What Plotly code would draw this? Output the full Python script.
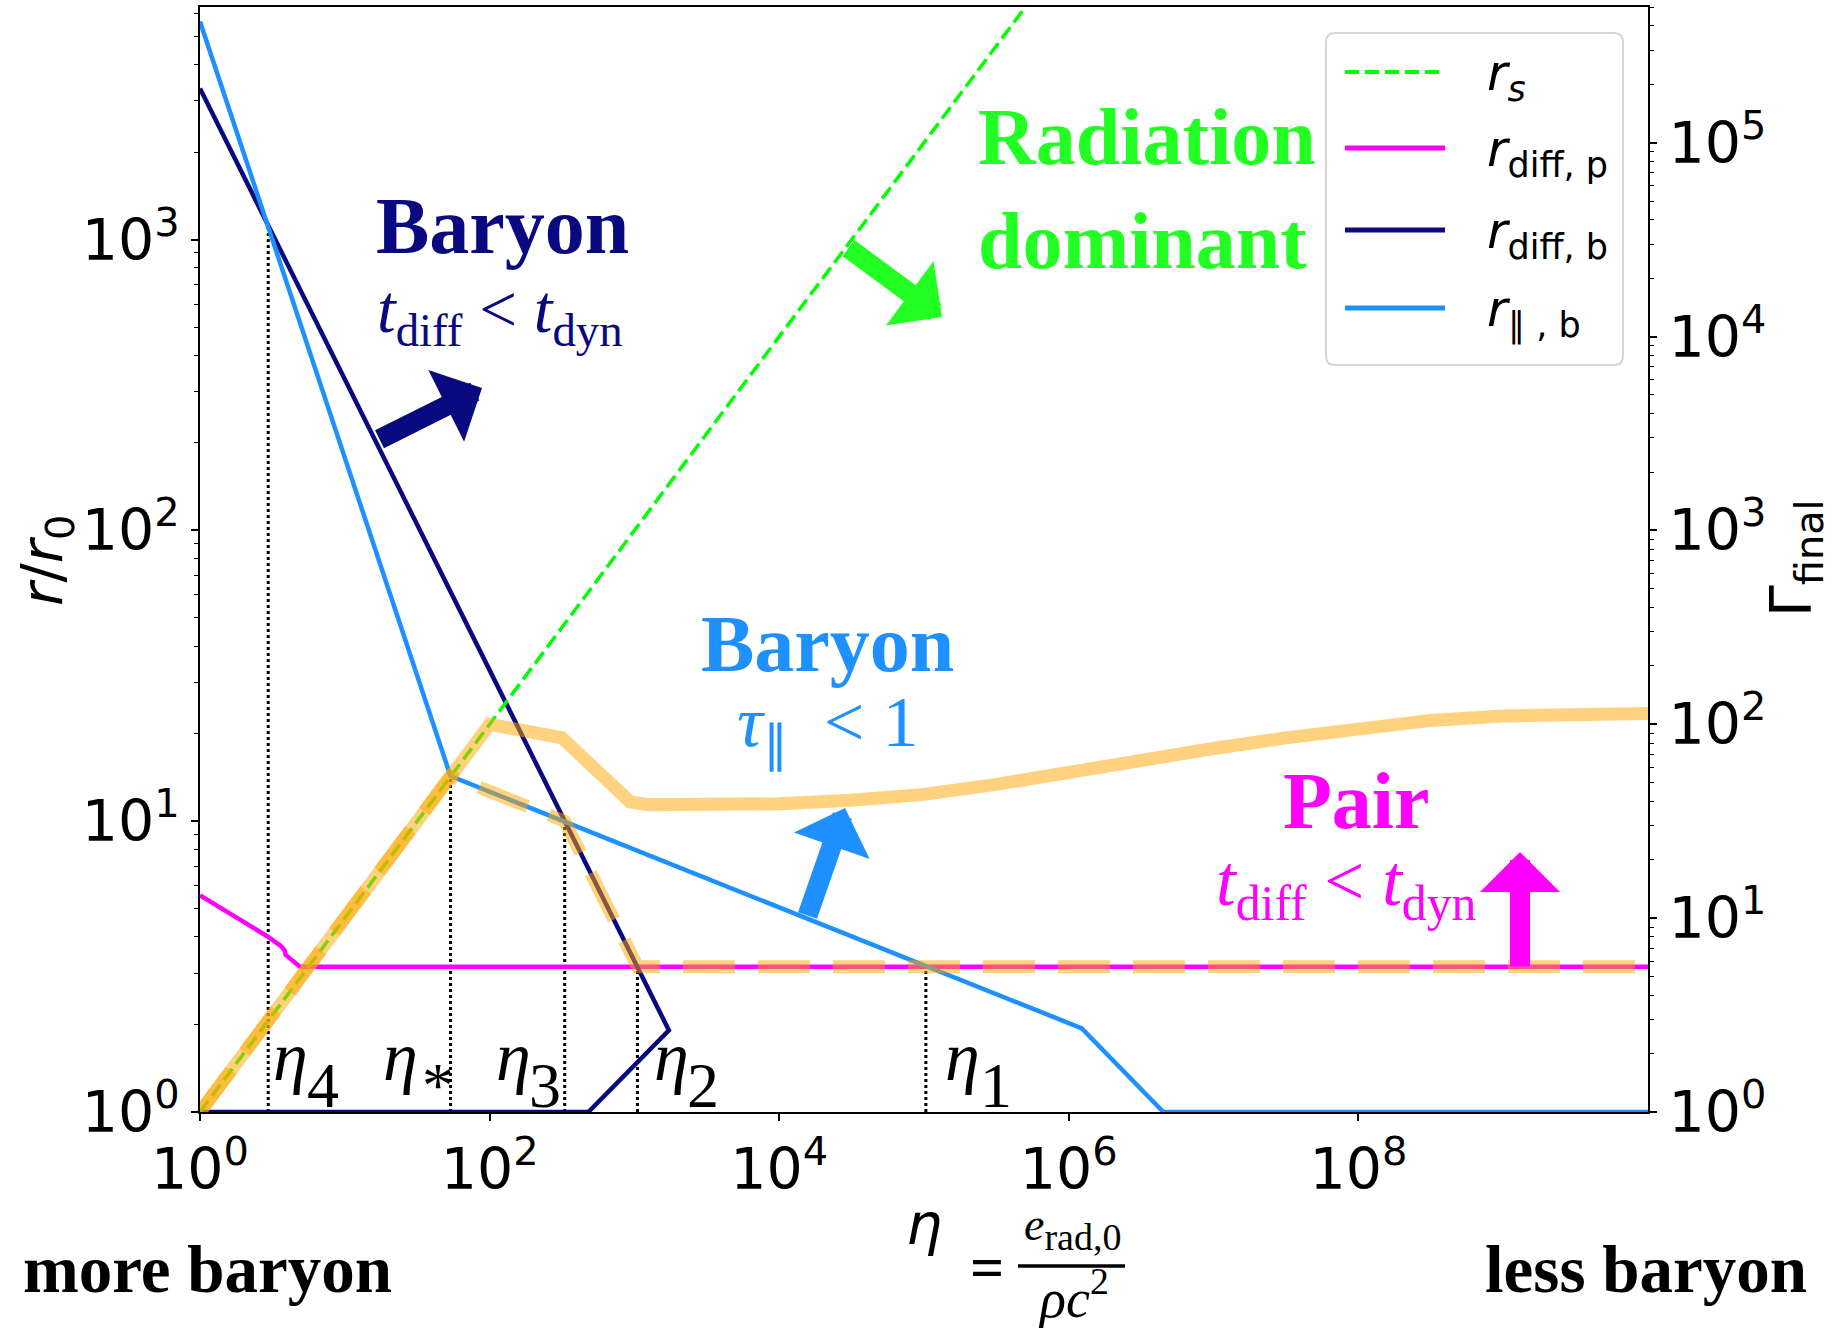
import math
import plotly.graph_objects as go

# ---------------- data ----------------
# r_s (sonic radius) : r/r0 = eta^(2/3)
eta_rs = [1.0, 1.0e6]
r_rs = [1.0, 1.0e4]

# pair diffusion radius
eta_diff_p = [1.0, 2.96, 3.63, 3.85, 3.9, 4.9, 1.0e10]
r_diff_p = [5.56, 4.0, 3.72, 3.59, 3.47, 3.16, 3.16]

# baryon diffusion radius (two branches joined at the turning point)
eta_diff_b = [1.0, 1730.0, 481.0, 1.0]
r_diff_b = [3311.0, 1.91, 1.0, 1.0]

# baryon parallel-optical-depth radius
eta_par_b = [1.0, 53.7, 1.23e6, 4.5e6, 1.0e10]
r_par_b = [5623.0, 14.3, 1.94, 1.0, 1.0]

# photospheric envelope (lower envelope of the radii above)
eta_env = [1.0, 53.7, 330.0, 1050.0, 1.0e10]
r_env = [1.0, 14.3, 10.0, 3.16, 3.16]

# final Lorentz factor (right axis)
eta_gamma = [1.0, 100.0, 316.0, 933.0, 1259.0, 3162.0, 1.0e4, 3.16e4, 1.0e5,
             3.16e5, 1.0e6, 3.16e6, 1.0e7, 3.16e7, 1.0e8, 3.16e8, 1.0e9,
             3.16e9, 1.0e10]
gamma_final = [1.0, 100.0, 85.1, 39.8, 38.5, 38.4, 38.9, 40.6, 43.5,
               49.0, 56.8, 66.0, 75.0, 85.1, 95.5, 104.7, 110.4,
               113.0, 113.8]

# characteristic eta values and the radius each dotted marker reaches
eta_marks = [2.96, 53.7, 330.0, 1050.0, 1.03e5]
r_marks = [1096.0, 14.3, 10.0, 3.16, 3.16]
mark_subs = ["4", "*", "3", "2", "1"]

# axis ticks
x_ticks = [1, 1e2, 1e4, 1e6, 1e8]
x_ticktext = ["10<sup>0</sup>", "10<sup>2</sup>", "10<sup>4</sup>",
              "10<sup>6</sup>", "10<sup>8</sup>"]
y_ticks = [1, 10, 100, 1000]
y_ticktext = ["10<sup>0</sup>", "10<sup>1</sup>", "10<sup>2</sup>", "10<sup>3</sup>"]
y2_ticks = [1, 10, 100, 1e3, 1e4, 1e5]
y2_ticktext = ["10<sup>0</sup>", "10<sup>1</sup>", "10<sup>2</sup>",
               "10<sup>3</sup>", "10<sup>4</sup>", "10<sup>5</sup>"]

legend_labels = ["<i>r</i><sub><i>s</i></sub>",
                 "<i>r</i><sub>diff, p</sub>",
                 "<i>r</i><sub>diff, b</sub>",
                 "<i>r</i><sub>\u2225 , b</sub>"]

# ---------------- styling ----------------
FIG_W, FIG_H = 1833, 1328
PL, PR, PT, PB = 200, 1648, 7, 1112

SERIF = "Liberation Serif"
SANS = "DejaVu Sans"
ASC = {SERIF: 0.891, SANS: 0.928}

LIME = "#00ff00"
LIME_TXT = "#22ff22"
NAVY = "#0a0a80"
DODGER = "#1e90ff"
MAGENTA = "#ff00ff"
ORANGE = "rgba(255,165,0,0.5)"
LW = 4.5


def fx(x):
    return (x - PL) / (PR - PL)


def fy(y):
    return (PB - y) / (PB - PT)


def text_at(text, x, baseline, size, color, family=SERIF, xanchor="left", **kw):
    top = baseline - ASC[family] * size - 2
    if xanchor == "left":
        x = x - 2
    return dict(text=text, x=fx(x), y=fy(top), xref="paper", yref="paper",
                xanchor=xanchor, yanchor="top", showarrow=False,
                font=dict(family=family, size=size, color=color), **kw)


def fat_arrow(tip, tail, color):
    return dict(text="", x=fx(tip[0]), y=fy(tip[1]), xref="paper", yref="paper",
                ax=tail[0] - tip[0], ay=tail[1] - tip[1],
                axref="pixel", ayref="pixel", showarrow=True,
                arrowhead=1, arrowsize=0.667, arrowwidth=20,
                arrowcolor=color, standoff=0)


fig = go.Figure()

# dotted markers at the characteristic eta values
for e, r in zip(eta_marks, r_marks):
    fig.add_trace(go.Scatter(x=[e, e], y=[1.0, r], mode="lines",
                             line=dict(color="black", width=3, dash="3px,3px"),
                             showlegend=False, hoverinfo="skip"))

fig.add_trace(go.Scatter(x=eta_diff_p, y=r_diff_p, mode="lines", name="r_diff,p",
                         line=dict(color=MAGENTA, width=LW)))
fig.add_trace(go.Scatter(x=eta_diff_b, y=r_diff_b, mode="lines", name="r_diff,b",
                         line=dict(color=NAVY, width=LW)))
fig.add_trace(go.Scatter(x=eta_par_b, y=r_par_b, mode="lines", name="r_par,b",
                         line=dict(color=DODGER, width=LW)))
fig.add_trace(go.Scatter(x=eta_rs, y=r_rs, mode="lines", name="r_s",
                         line=dict(color=LIME, width=3.5, dash="14px,6px")))
fig.add_trace(go.Scatter(x=eta_env, y=r_env, mode="lines", name="r_ph",
                         line=dict(color=ORANGE, width=13, dash="52px,23px")))
fig.add_trace(go.Scatter(x=eta_gamma, y=gamma_final, mode="lines", name="Gamma_final",
                         yaxis="y2", line=dict(color=ORANGE, width=13)))

tickfont = dict(family=SANS, size=57, color="black")
minor_y = [m * 10 ** d for d in range(0, 4) for m in range(2, 10)]
minor_y2 = [m * 10 ** d for d in range(0, 6) for m in range(2, 10)]

annotations = []

# eta_n labels next to the dotted markers
eta_dx = [5, -68, -69, 17, 19]
sub_dx = [39, -29, -36, 50, 54]
for e, s, dx, sdx in zip(eta_marks, mark_subs, eta_dx, sub_dx):
    annotations.append(dict(text="<i>\u03b7</i>", x=math.log10(e), xref="x",
                            xshift=dx - 2, xanchor="left",
                            y=fy(1080 - ASC[SERIF] * 70 - 2), yref="paper",
                            yanchor="top", showarrow=False,
                            font=dict(family=SERIF, size=70, color="black")))
    annotations.append(dict(text=s, x=math.log10(e), xref="x",
                            xshift=sdx - 2, xanchor="left",
                            y=fy(1107 - ASC[SERIF] * 64 - 2), yref="paper",
                            yanchor="top", showarrow=False,
                            font=dict(family=SERIF, size=64, color="black")))

# region labels
annotations += [
    text_at("<b>Baryon</b>", 502, 253, 80, NAVY, xanchor="center"),
    text_at("<i>t</i><sub>diff</sub> &lt; <i>t</i><sub>dyn</sub>", 500, 332, 67, NAVY,
            xanchor="center"),
    text_at("<b>Radiation<br>dominant</b>", 978, 164, 80, LIME_TXT, align="left"),
    text_at("<b>Baryon</b>", 827, 671, 80, DODGER, xanchor="center"),
    text_at("<i>\u03c4</i><sub>\u2225</sub>  &lt; 1", 827, 746, 72, DODGER,
            xanchor="center"),
    text_at("<b>Pair</b>", 1356, 828, 80, MAGENTA, xanchor="center"),
    text_at("<i>t</i><sub>diff</sub> &lt; <i>t</i><sub>dyn</sub>", 1346, 905, 71, MAGENTA,
            xanchor="center"),
    text_at("<b>more baryon</b>", 207, 1292, 67, "black", xanchor="center"),
    text_at("<b>less baryon</b>", 1646, 1292, 67, "black", xanchor="center"),
]

# arrows pointing into each region
annotations += [
    fat_arrow((482, 388), (378, 440), NAVY),
    fat_arrow((942, 317), (847, 247), LIME_TXT),
    fat_arrow((845, 808), (807, 917), DODGER),
    fat_arrow((1520, 852), (1520, 968), MAGENTA),
]

# axis titles and the definition of eta
annotations += [
    dict(text="<i>r</i>/<i>r</i><sub>0</sub>", x=fx(46), y=fy(561), xref="paper",
         yref="paper", xanchor="center", yanchor="middle", textangle=-90,
         showarrow=False, font=dict(family=SANS, size=57, color="black")),
    dict(text="\u0393<sub>final</sub>", x=fx(1795), y=fy(558), xref="paper",
         yref="paper", xanchor="center", yanchor="middle", textangle=-90,
         showarrow=False, font=dict(family=SANS, size=57, color="black")),
    text_at("<i>\u03b7</i>", 924, 1244, 57, "black", family=SANS, xanchor="center"),
    text_at("<b>=</b>", 987, 1287, 60, "black", xanchor="center"),
    text_at('<i>e</i><sub><span style="font-size:38px">rad,0</span></sub>',
            1072, 1240, 46, "black", xanchor="center"),
    text_at("<i>\u03c1c</i><sup>2</sup>", 1073, 1308, 54, "black", xanchor="center"),
]

# legend
leg_rows = [72, 148, 230, 308]
leg_styles = [(LIME, "14px,6px"), (MAGENTA, "solid"), (NAVY, "solid"), (DODGER, "solid")]
shapes = []
bx0, bx1, by0, by1, rad = 1326, 1623, 33, 365, 9
path = (f"M{fx(bx0 + rad)},{fy(by0)} L{fx(bx1 - rad)},{fy(by0)} "
        f"Q{fx(bx1)},{fy(by0)} {fx(bx1)},{fy(by0 + rad)} "
        f"L{fx(bx1)},{fy(by1 - rad)} Q{fx(bx1)},{fy(by1)} {fx(bx1 - rad)},{fy(by1)} "
        f"L{fx(bx0 + rad)},{fy(by1)} Q{fx(bx0)},{fy(by1)} {fx(bx0)},{fy(by1 - rad)} "
        f"L{fx(bx0)},{fy(by0 + rad)} Q{fx(bx0)},{fy(by0)} {fx(bx0 + rad)},{fy(by0)} Z")
shapes.append(dict(type="path", path=path, xref="paper", yref="paper",
                   fillcolor="rgba(255,255,255,0.85)", line=dict(color="#d4d4d4", width=2)))
for row, (col, dash), lab in zip(leg_rows, leg_styles, legend_labels):
    shapes.append(dict(type="line", xref="paper", yref="paper",
                       x0=fx(1345), x1=fx(1445), y0=fy(row), y1=fy(row),
                       line=dict(color=col, width=5 if dash == "solid" else 3.8, dash=dash)))
    annotations.append(text_at(lab, 1487, row + 18, 50, "black", family=SANS))

# fraction bar of the eta definition
shapes.append(dict(type="line", xref="paper", yref="paper",
                   x0=fx(1018), x1=fx(1125), y0=fy(1266), y1=fy(1266),
                   line=dict(color="black", width=3.5)))

fig.update_layout(
    width=FIG_W, height=FIG_H,
    margin=dict(l=PL, r=FIG_W - PR, t=PT, b=FIG_H - PB, autoexpand=False),
    paper_bgcolor="white", plot_bgcolor="white",
    showlegend=False,
    xaxis=dict(type="log", range=[0, 10], tickvals=x_ticks, ticktext=x_ticktext,
               ticks="outside", ticklen=7, tickwidth=1.5, tickcolor="black",
               showline=True, linecolor="black", linewidth=2, mirror=True,
               showgrid=False, zeroline=False, tickfont=tickfont, automargin=False),
    yaxis=dict(type="log", range=[0, 3.8], tickvals=y_ticks, ticktext=y_ticktext,
               ticks="outside", ticklen=7, tickwidth=1.5, tickcolor="black",
               minor=dict(tickvals=minor_y, ticks="outside", ticklen=4,
                          tickwidth=1, tickcolor="black"),
               showline=True, linecolor="black", linewidth=2, mirror=False,
               showgrid=False, zeroline=False, tickfont=tickfont, automargin=False),
    yaxis2=dict(type="log", range=[0, 5.7], overlaying="y", side="right",
                tickvals=y2_ticks, ticktext=y2_ticktext,
                ticks="outside", ticklen=7, tickwidth=1.5, tickcolor="black",
                minor=dict(tickvals=minor_y2, ticks="outside", ticklen=4,
                           tickwidth=1, tickcolor="black"),
                showline=True, linecolor="black", linewidth=2,
                showgrid=False, zeroline=False, tickfont=tickfont, automargin=False),
    annotations=annotations,
    shapes=shapes,
)

fig.write_html("out.html")
